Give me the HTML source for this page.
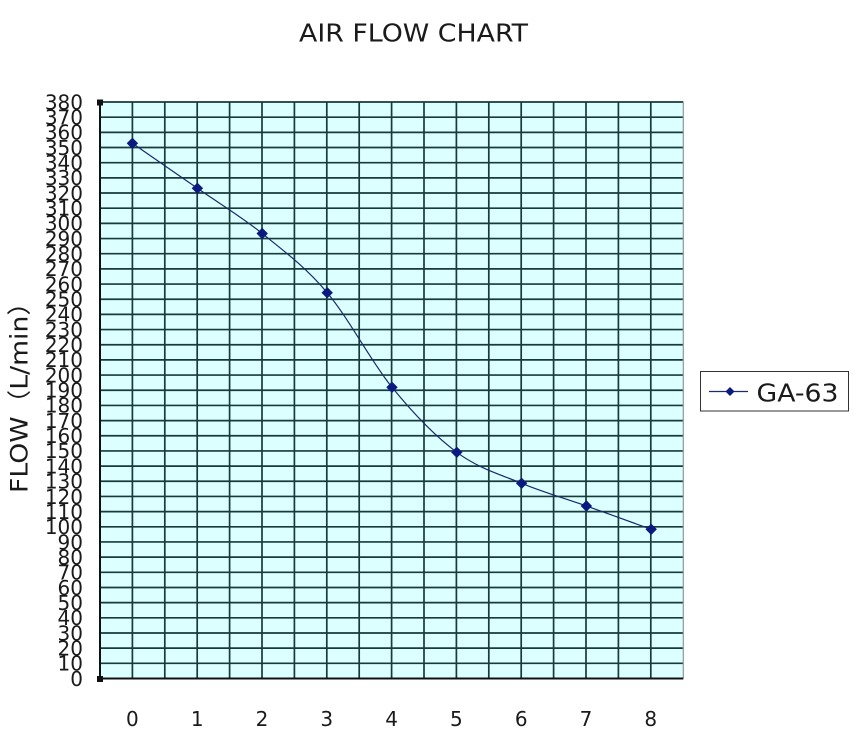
<!DOCTYPE html>
<html>
<head>
<meta charset="utf-8">
<style>
html,body{margin:0;padding:0;background:#fff;}
svg{display:block;}
text{font-family:"DejaVu Sans","Liberation Sans","Noto Sans CJK SC",sans-serif;fill:#1a1a1a;}
</style>
</head>
<body>
<svg width="854" height="733" viewBox="0 0 854 733" xmlns="http://www.w3.org/2000/svg">
<rect x="0" y="0" width="854" height="733" fill="#fff"/>
<text x="299" y="41.5" font-size="24.5" textLength="229" lengthAdjust="spacingAndGlyphs">AIR FLOW CHART</text>

<!-- plot background -->
<rect x="100" y="102" width="583.3" height="576.5" fill="#dcffff"/>

<!-- grid -->
<g stroke="#173a3a" stroke-width="1.7" fill="none">
<path d="M100 102H683.3M100 117.17H683.3M100 132.34H683.3M100 147.51H683.3M100 162.68H683.3M100 177.86H683.3M100 193.03H683.3M100 208.2H683.3M100 223.37H683.3M100 238.54H683.3M100 253.71H683.3M100 268.88H683.3M100 284.05H683.3M100 299.22H683.3M100 314.39H683.3M100 329.57H683.3M100 344.74H683.3M100 359.91H683.3M100 375.08H683.3M100 390.25H683.3M100 405.42H683.3M100 420.59H683.3M100 435.76H683.3M100 450.93H683.3M100 466.11H683.3M100 481.28H683.3M100 496.45H683.3M100 511.62H683.3M100 526.79H683.3M100 541.96H683.3M100 557.13H683.3M100 572.3H683.3M100 587.47H683.3M100 602.64H683.3M100 617.82H683.3M100 632.99H683.3M100 648.16H683.3M100 663.33H683.3"/>
<path d="M132.4 102V678.5M164.8 102V678.5M197.2 102V678.5M229.6 102V678.5M262 102V678.5M294.4 102V678.5M326.8 102V678.5M359.2 102V678.5M391.6 102V678.5M424 102V678.5M456.4 102V678.5M488.8 102V678.5M521.2 102V678.5M553.6 102V678.5M586 102V678.5M618.4 102V678.5M650.8 102V678.5"/>
</g>
<line x1="683.3" y1="102" x2="683.3" y2="678.5" stroke="#8a9a9a" stroke-width="1.2"/>
<line x1="100" y1="678.5" x2="683.3" y2="678.5" stroke="#111" stroke-width="2"/>
<line x1="100" y1="102" x2="100" y2="678.5" stroke="#111" stroke-width="2"/>
<rect x="97" y="99.5" width="6" height="6" fill="#111"/>
<rect x="97" y="676" width="6" height="6" fill="#111"/>

<!-- y tick labels -->
<g font-size="20" text-anchor="end">
<text x="83" y="109.3">380</text>
<text x="83" y="124.5">370</text>
<text x="83" y="139.6">360</text>
<text x="83" y="154.8">350</text>
<text x="83" y="170">340</text>
<text x="83" y="185.2">330</text>
<text x="83" y="200.3">320</text>
<text x="83" y="215.5">310</text>
<text x="83" y="230.7">300</text>
<text x="83" y="245.8">290</text>
<text x="83" y="261">280</text>
<text x="83" y="276.2">270</text>
<text x="83" y="291.4">260</text>
<text x="83" y="306.5">250</text>
<text x="83" y="321.7">240</text>
<text x="83" y="336.9">230</text>
<text x="83" y="352">220</text>
<text x="83" y="367.2">210</text>
<text x="83" y="382.4">200</text>
<text x="83" y="397.6">190</text>
<text x="83" y="412.7">180</text>
<text x="83" y="427.9">170</text>
<text x="83" y="443.1">160</text>
<text x="83" y="458.2">150</text>
<text x="83" y="473.4">140</text>
<text x="83" y="488.6">130</text>
<text x="83" y="503.8">120</text>
<text x="83" y="518.9">110</text>
<text x="83" y="534.1">100</text>
<text x="83" y="549.3">90</text>
<text x="83" y="564.4">80</text>
<text x="83" y="579.6">70</text>
<text x="83" y="594.8">60</text>
<text x="83" y="609.9">50</text>
<text x="83" y="625.1">40</text>
<text x="83" y="640.3">30</text>
<text x="83" y="655.5">20</text>
<text x="83" y="670.6">10</text>
<text x="83" y="685.8">0</text>
</g>

<!-- x tick labels -->
<g font-size="20" text-anchor="middle">
<text x="132.4" y="726">0</text>
<text x="197.2" y="726">1</text>
<text x="262" y="726">2</text>
<text x="326.8" y="726">3</text>
<text x="391.6" y="726">4</text>
<text x="456.4" y="726">5</text>
<text x="521.2" y="726">6</text>
<text x="586" y="726">7</text>
<text x="650.8" y="726">8</text>
</g>

<!-- y axis title -->
<text transform="translate(27.5,493) rotate(-90)" font-size="24" textLength="204" lengthAdjust="spacingAndGlyphs" style="font-family:'DejaVu Sans','Noto Sans CJK SC',sans-serif">FLOW（L/min）</text>

<!-- series -->
<path d="M132.4 143.3 C143.23 150.8 175.77 173.27 197.4 188.3 C219.03 203.33 240.57 216.1 262.2 233.5 C283.83 250.9 305.57 267.07 327.2 292.7 C348.83 318.33 370.4 360.7 392 387.3 C413.6 413.9 435.2 436.3 456.8 452.3 C478.4 468.3 500 474.35 521.6 483.3 C543.2 492.25 564.8 498.33 586.4 506 C608 513.67 640.4 525.42 651.2 529.3" fill="none" stroke="#1a2a6a" stroke-width="1.2"/>
<g fill="#0a1a80">
<path d="M132.4 137.6l5.7 5.7-5.7 5.7-5.7-5.7z"/>
<path d="M197.4 182.6l5.7 5.7-5.7 5.7-5.7-5.7z"/>
<path d="M262.2 227.8l5.7 5.7-5.7 5.7-5.7-5.7z"/>
<path d="M327.2 287l5.7 5.7-5.7 5.7-5.7-5.7z"/>
<path d="M392 381.6l5.7 5.7-5.7 5.7-5.7-5.7z"/>
<path d="M456.8 446.6l5.7 5.7-5.7 5.7-5.7-5.7z"/>
<path d="M521.6 477.6l5.7 5.7-5.7 5.7-5.7-5.7z"/>
<path d="M586.4 500.3l5.7 5.7-5.7 5.7-5.7-5.7z"/>
<path d="M651.2 523.6l5.7 5.7-5.7 5.7-5.7-5.7z"/>
</g>

<!-- legend -->
<rect x="700.5" y="371.5" width="148" height="39.5" fill="#fff" stroke="#333" stroke-width="1"/>
<line x1="709" y1="391.5" x2="748" y2="391.5" stroke="#1a2a6a" stroke-width="1.2"/>
<path d="M730 387l4.5 4.5-4.5 4.5-4.5-4.5z" fill="#0a1a80"/>
<text x="756.5" y="401.5" font-size="25" textLength="82" lengthAdjust="spacingAndGlyphs">GA-63</text>
</svg>
</body>
</html>
